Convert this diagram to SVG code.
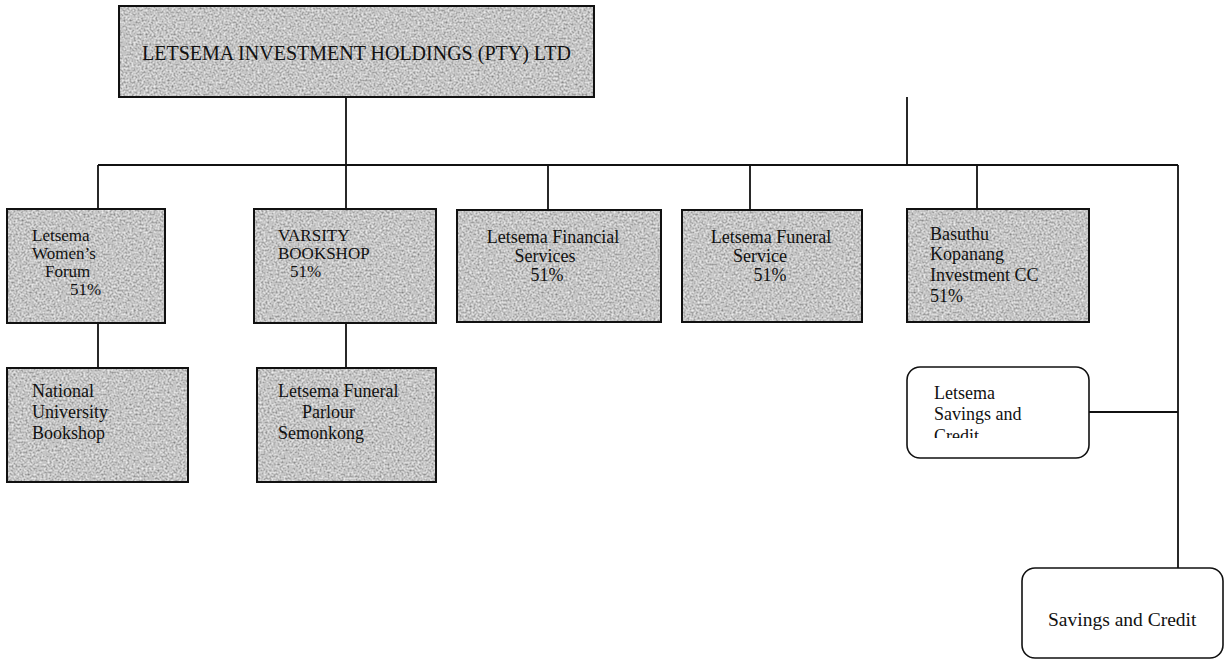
<svg xmlns="http://www.w3.org/2000/svg" width="1230" height="661" viewBox="0 0 1230 661">
<defs>
  <filter id="grain" x="0" y="0" width="100%" height="100%">
    <feTurbulence type="fractalNoise" baseFrequency="0.5" numOctaves="4" seed="7" result="n"/>
    <feColorMatrix in="n" type="matrix" values="0.95 0 0 0 0.08  0.95 0 0 0 0.08  0.95 0 0 0 0.08  0 0 0 0 1" result="g"/>
    <feComposite in="g" in2="SourceGraphic" operator="in"/>
  </filter>
  <clipPath id="clipSav"><rect x="907" y="367" width="182" height="71"/></clipPath>
</defs>
<style>
  .box { fill: #999; stroke: none; filter: url(#grain); }
  .edge { fill: none; stroke: #111; stroke-width: 2; }
  .rbox { fill: #fff; stroke: #111; stroke-width: 1.6; }
  .t { font-family: "Liberation Serif", "Times New Roman", serif; font-size: 18px; fill: #111; }
  .ts { font-family: "Liberation Serif", "Times New Roman", serif; font-size: 17px; fill: #111; }
  .tb { font-family: "Liberation Serif", "Times New Roman", serif; font-size: 20px; fill: #111; }
  .tm { font-family: "Liberation Serif", "Times New Roman", serif; font-size: 19.5px; fill: #111; }
  .conn line { stroke: #111; stroke-width: 1.8; }
</style>
<rect width="1230" height="661" fill="#fff"/>

<g class="conn" id="connectors">
  <line x1="346" y1="97" x2="346" y2="165"/>
  <line x1="98" y1="165" x2="1178" y2="165"/>
  <line x1="907" y1="97" x2="907" y2="165"/>
  <line x1="98" y1="165" x2="98" y2="209"/>
  <line x1="346" y1="165" x2="346" y2="209"/>
  <line x1="548" y1="165" x2="548" y2="210"/>
  <line x1="750" y1="165" x2="750" y2="210"/>
  <line x1="977" y1="165" x2="977" y2="209"/>
  <line x1="1178" y1="165" x2="1178" y2="568"/>
  <line x1="98" y1="323" x2="98" y2="368"/>
  <line x1="346" y1="323" x2="346" y2="368"/>
  <line x1="1089" y1="412" x2="1178" y2="412"/>
</g>

<g id="node-holdings">
  <rect class="box" x="119" y="6" width="475" height="91"/>
  <rect class="edge" x="119" y="6" width="475" height="91"/>
  <text class="tb" x="142" y="60">LETSEMA INVESTMENT HOLDINGS (PTY) LTD</text>
</g>

<g id="node-womens-forum">
  <rect class="box" x="7" y="209" width="158" height="114"/>
  <rect class="edge" x="7" y="209" width="158" height="114"/>
  <text class="ts" x="32" y="241">Letsema</text>
  <text class="ts" x="32" y="259">Women’s</text>
  <text class="ts" x="45" y="277">Forum</text>
  <text class="ts" x="70" y="295">51%</text>
</g>

<g id="node-varsity">
  <rect class="box" x="254" y="209" width="182" height="114"/>
  <rect class="edge" x="254" y="209" width="182" height="114"/>
  <text class="ts" x="278" y="241">VARSITY</text>
  <text class="ts" x="278" y="259">BOOKSHOP</text>
  <text class="ts" x="290" y="277">51%</text>
</g>

<g id="node-financial">
  <rect class="box" x="457" y="210" width="204" height="112"/>
  <rect class="edge" x="457" y="210" width="204" height="112"/>
  <text class="t" x="553" y="243" text-anchor="middle">Letsema Financial</text>
  <text class="t" x="545" y="262" text-anchor="middle">Services</text>
  <text class="t" x="547" y="281" text-anchor="middle">51%</text>
</g>

<g id="node-funeral-service">
  <rect class="box" x="682" y="210" width="180" height="112"/>
  <rect class="edge" x="682" y="210" width="180" height="112"/>
  <text class="t" x="771" y="243" text-anchor="middle">Letsema Funeral</text>
  <text class="t" x="760" y="262" text-anchor="middle">Service</text>
  <text class="t" x="770" y="281" text-anchor="middle">51%</text>
</g>

<g id="node-basuthu">
  <rect class="box" x="907" y="209" width="182" height="113"/>
  <rect class="edge" x="907" y="209" width="182" height="113"/>
  <text class="t" x="930" y="240">Basuthu</text>
  <text class="t" x="930" y="260">Kopanang</text>
  <text class="t" x="930" y="281">Investment CC</text>
  <text class="t" x="930" y="302">51%</text>
</g>

<g id="node-national-university">
  <rect class="box" x="7" y="368" width="181" height="114"/>
  <rect class="edge" x="7" y="368" width="181" height="114"/>
  <text class="t" x="32" y="397">National</text>
  <text class="t" x="32" y="418">University</text>
  <text class="t" x="32" y="439">Bookshop</text>
</g>

<g id="node-funeral-parlour">
  <rect class="box" x="257" y="368" width="179" height="114"/>
  <rect class="edge" x="257" y="368" width="179" height="114"/>
  <text class="t" x="278" y="397">Letsema Funeral</text>
  <text class="t" x="302" y="418">Parlour</text>
  <text class="t" x="278" y="439">Semonkong</text>
</g>

<g id="node-letsema-savings">
  <rect class="rbox" x="907" y="367" width="182" height="91" rx="13" ry="13"/>
  <g clip-path="url(#clipSav)">
    <text class="t" x="934" y="399">Letsema</text>
    <text class="t" x="934" y="420">Savings and</text>
    <text class="t" x="934" y="442">Credit</text>
  </g>
</g>

<g id="node-savings-credit">
  <rect class="rbox" x="1022" y="568" width="201" height="90" rx="13" ry="13"/>
  <text class="tm" x="1048" y="626">Savings and Credit</text>
</g>
</svg>
